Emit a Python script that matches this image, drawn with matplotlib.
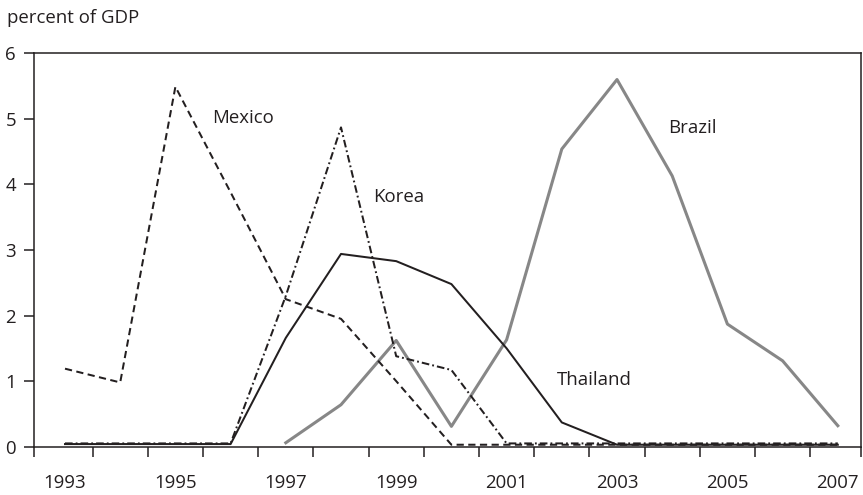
import matplotlib
matplotlib.use("Agg")
import matplotlib.pyplot as plt
import numpy as np

years = list(range(1993, 2008))
mexico = [1.19, 0.98, 5.49, 3.88, 2.25, 1.95, 1.00, 0.03, 0.03, 0.03, 0.03, 0.03, 0.03, 0.03, 0.03]
korea = [0.05, 0.05, 0.05, 0.05, 2.30, 4.87, 1.38, 1.17, 0.05, 0.05, 0.05, 0.05, 0.05, 0.05, 0.05]
thailand = [0.04, 0.04, 0.04, 0.04, 1.66, 2.94, 2.83, 2.48, 1.50, 0.37, 0.03, 0.03, 0.03, 0.03, 0.03]
brazil = [np.nan, np.nan, np.nan, np.nan, 0.06, 0.64, 1.62, 0.31, 1.63, 4.54, 5.60, 4.13, 1.87, 1.31, 0.32]
label_years = [1993, 1995, 1997, 1999, 2001, 2003, 2005, 2007]
y_ticks = [0, 1, 2, 3, 4, 5, 6]

plt.rcParams['font.family'] = ['Open Sans', 'DejaVu Sans']
plt.rcParams['lines.scale_dashes'] = False
TXT = '#231f20'
FS = 13.4

fig = plt.figure(figsize=(8.63, 4.95), dpi=100)
ax = fig.add_axes([0.03905, 0.09758, 0.95863, 0.79474])

x = np.arange(len(years))

ax.plot(x, np.array(brazil, dtype=float), color='#878787', lw=2.2, zorder=2)
ax.plot(x, thailand, color=TXT, lw=1.45, zorder=3)
ax.plot(x, mexico, color=TXT, lw=1.45, dashes=(5.2, 3.2), zorder=4)
ax.plot(x, korea, color=TXT, lw=1.45, dashes=(5.5, 2.2, 1.3, 2.2), zorder=4)

xl0, xl1 = -0.567, 14.42
ax.set_xlim(xl0, xl1)
ax.set_ylim(0, 6)

# category boundary tick marks
ax.set_xticks([xl0] + [i + 0.5 for i in range(len(years) - 1)] + [xl1])
ax.set_xticklabels([])
# labels at odd years
ax.set_xticks([years.index(yv) for yv in label_years], minor=True)
ax.set_xticklabels([str(yv) for yv in label_years], minor=True)
ax.tick_params(axis='x', which='major', direction='out', length=7.2, width=1.1, color=TXT)
ax.tick_params(axis='x', which='minor', length=0, pad=19.5, labelsize=FS, labelcolor=TXT)

ax.set_yticks(y_ticks)
ax.set_yticklabels([str(v) for v in y_ticks])
ax.tick_params(axis='y', direction='out', length=7.2, width=1.1, color=TXT, pad=5.5,
               labelsize=FS, labelcolor=TXT)

for s in ax.spines.values():
    s.set_color(TXT)
    s.set_linewidth(1.1)

ax.text(3.22, 5.01, 'Mexico', fontsize=FS, color=TXT, ha='center', va='center')
ax.text(6.05, 3.81, 'Korea', fontsize=FS, color=TXT, ha='center', va='center')
ax.text(9.58, 1.01, 'Thailand', fontsize=FS, color=TXT, ha='center', va='center')
ax.text(11.36, 4.86, 'Brazil', fontsize=FS, color=TXT, ha='center', va='center')

fig.text(7 / 863, 1 - 18 / 495, 'percent of GDP', fontsize=FS, color=TXT, ha='left', va='center')

fig.savefig('out.png', dpi=100)
